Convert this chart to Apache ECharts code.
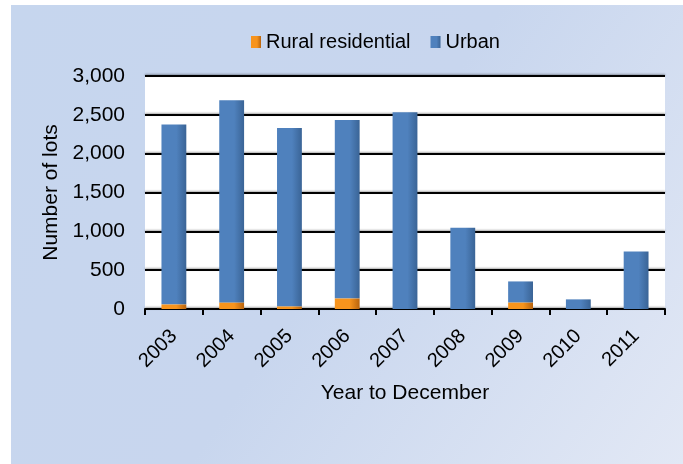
<!DOCTYPE html>
<html>
<head>
<meta charset="utf-8">
<script src="https://cdn.jsdelivr.net/npm/echarts@6/dist/echarts.min.js"></script>
<style>html,body{margin:0;padding:0;background:#fff}#c{width:683px;height:464px}</style>
</head>
<body>
<div id="c"></div>
<script>
var years = ['2003','2004','2005','2006','2007','2008','2009','2010','2011'];
var rural = [60, 85, 34, 137, 0, 0, 85, 0, 0];
var urban = [2316, 2603, 2295, 2295, 2534, 1047, 270, 124, 739];
var yTicks = [0, 500, 1000, 1500, 2000, 2500, 3000];

var chart = echarts.init(document.getElementById('c'), null, {renderer: 'canvas'});
function grad(a, b) {
  return new echarts.graphic.LinearGradient(0, 0, 1, 0, [
    {offset: 0, color: a}, {offset: 0.6, color: a}, {offset: 1, color: b}
  ]);
}
var font = 'Liberation Sans, Arial, sans-serif';
chart.setOption({
  animation: false,
  graphic: [{
    type: 'rect', z: -10, silent: true,
    shape: {x: 11, y: 5, width: 672, height: 459},
    style: {fill: new echarts.graphic.LinearGradient(0, 0, 1, 1, [
      {offset: 0, color: '#C6D6EE'}, {offset: 0.5, color: '#C8D6EE'}, {offset: 1, color: '#E2E8F5'}
    ])}
  }],
  legend: {
    top: 32, left: 251, padding: 0,
    itemWidth: 10, itemHeight: 12, itemGap: 20,
    textStyle: {fontFamily: font, fontSize: 20, color: '#000', padding: [0, 0, 0, 0]},
    data: [{name: 'Rural residential', icon: 'rect'}, {name: 'Urban', icon: 'rect'}]
  },
  grid: {left: 145, right: 18, top: 76, bottom: 155, containLabel: false,
         show: true, backgroundColor: '#fff', borderWidth: 0},
  xAxis: {
    type: 'category', data: years,
    name: 'Year to December', nameLocation: 'middle', nameGap: 74,
    nameTextStyle: {fontFamily: font, fontSize: 21, color: '#000'},
    axisLine: {lineStyle: {color: '#000', width: 2}},
    axisTick: {show: true, length: 6, lineStyle: {color: '#000', width: 2}},
    axisLabel: {rotate: 45, fontFamily: font, fontSize: 20, color: '#000', margin: 24}
  },
  yAxis: {
    type: 'value', min: 0, max: 3000, interval: 500,
    name: 'Number of lots', nameLocation: 'middle', nameGap: 79,
    nameTextStyle: {fontFamily: font, fontSize: 21, color: '#000'},
    axisLine: {show: false},
    axisTick: {show: false},
    axisLabel: {fontFamily: font, fontSize: 21, color: '#000', margin: 20,
      formatter: function (v) { return yTicks.indexOf(v) >= 0 ? v.toLocaleString('en-US') : ''; }},
    splitLine: {lineStyle: {color: '#000', width: 2, shadowColor: 'rgba(0,0,0,0.35)', shadowBlur: 2, shadowOffsetY: -1}}
  },
  series: [{
    name: 'Rural residential', type: 'bar', stack: 's', data: rural, barWidth: '43%',
    itemStyle: {color: grad('#F7941D', '#B8640E')}
  }, {
    name: 'Urban', type: 'bar', stack: 's', data: urban, barWidth: '43%',
    itemStyle: {color: grad('#4F81BD', '#3A6496')}
  }]
});
</script>
</body>
</html>
